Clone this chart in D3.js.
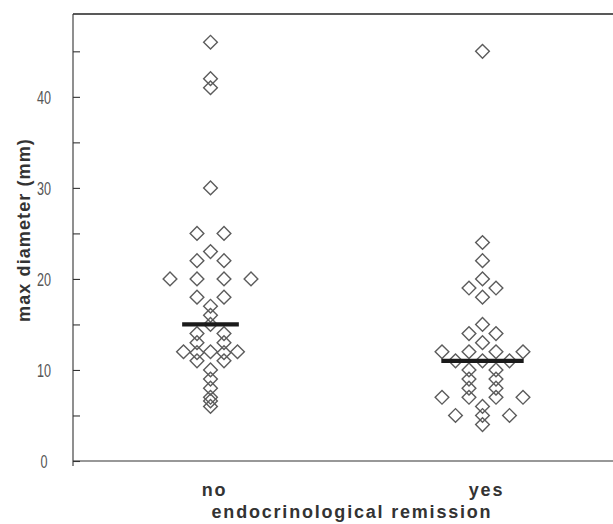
<!DOCTYPE html>
<html>
<head>
<meta charset="utf-8">
<script src="https://cdn.jsdelivr.net/npm/d3@7"></script>
<style>
	body { margin: 0; background: #fff; }
	svg { display: block; font-family: "Liberation Sans", Arial, sans-serif; }
</style>
</head>
<body>
<svg id="chart" width="613" height="524"></svg>
<script>
// max diameter (mm) per patient
var groups = ["no", "yes"];
var noValues = [46, 42, 41, 30, 25, 25, 23, 22, 22, 20, 20, 20, 20, 18, 18, 17, 16, 15,
	14, 14, 13, 13, 12, 12, 12, 11.9, 11.9, 11, 11, 10, 9, 8, 7, 6.6, 6];
var yesValues = [45, 24, 22, 20, 19, 19, 18, 15, 14, 14, 13, 12, 12, 12, 12, 11, 11, 11,
	10, 10, 9, 9, 8, 8, 7, 7, 7, 7, 6, 5, 5, 5, 4];
var majorTicks = [0, 10, 20, 30, 40];
var minorTicks = [5, 15, 25, 35, 45];
var yTitle = "max diameter (mm)";
var xTitle = "endocrinological remission";

var series = { no: noValues, yes: yesValues };

var svg = d3.select("#chart");
var unit = 13.5; // half a symbol width, side step of the dot plot
var barHalf = { no: 2.1, yes: 3.05 }; // median bar half width, in units

var x = d3.scalePoint()
	.domain(groups)
	.range([74.5, 618.5])
	.padding(0.5);

var y = d3.scaleLinear()
	.domain([0, 49.1])
	.range([461, 14]);

// frame
svg.append("line")
	.attr("x1", 73).attr("x2", 613)
	.attr("y1", y(49.1)).attr("y2", y(49.1))
	.style("stroke", "#222")
	.style("stroke-width", 1.6);

svg.append("line")
	.attr("x1", 73).attr("x2", 613)
	.attr("y1", y(0)).attr("y2", y(0))
	.style("stroke", "#333")
	.style("stroke-width", 1.1);

svg.append("line")
	.attr("x1", 73).attr("x2", 73)
	.attr("y1", y(49.1)).attr("y2", y(0) + 5)
	.style("stroke", "#333")
	.style("stroke-width", 1.1);

// y axis, ticks pointing inwards
var gMajor = svg.append("g")
	.attr("transform", "translate(73,0)")
	.call(d3.axisLeft(y).tickValues(majorTicks).tickSize(-7).tickFormat(d3.format("d")));

var gMinor = svg.append("g")
	.attr("transform", "translate(73,0)")
	.call(d3.axisLeft(y).tickValues(minorTicks).tickSize(-7).tickFormat(""));

[gMajor, gMinor].forEach(function(g) {
	g.select(".domain").remove();
	g.selectAll(".tick line")
		.style("stroke", "#333")
		.style("stroke-width", 1.1);
});

var squeeze = 0.7; // tick numbers are narrow in the original
gMajor.selectAll(".tick text")
	.attr("transform", "scale(" + squeeze + ",1)")
	.attr("x", -29 / squeeze)
	.attr("dy", "0.36em")
	.style("text-anchor", "middle")
	.style("font-size", "18px")
	.style("fill", "#555");

// dot plot: equal values share a row, centred on the category
function layout(values) {
	var rows = d3.group(values, function(v) { return v; });
	var pts = [];
	rows.forEach(function(row, v) {
		row.forEach(function(d, i) {
			pts.push({ value: v, slot: 2 * i - (row.length - 1) });
		});
	});
	return pts;
}

var diamond = d3.symbol().type(d3.symbolSquare).size(94);

groups.forEach(function(g) {
	var cx = x(g);

	svg.append("g")
		.attr("class", "points " + g)
		.selectAll("path")
		.data(layout(series[g]))
		.enter()
		.append("path")
		.attr("d", diamond)
		.attr("transform", function(d) {
			return "translate(" + (cx + d.slot * unit) + "," + y(d.value) + ") rotate(45)";
		})
		.style("fill", "none")
		.style("stroke", "#5c5c5c")
		.style("stroke-width", 1.4);

	var med = d3.median(series[g]);
	svg.append("line")
		.attr("x1", cx - barHalf[g] * unit)
		.attr("x2", cx + barHalf[g] * unit)
		.attr("y1", y(med)).attr("y2", y(med))
		.style("stroke", "#1a1a1a")
		.style("stroke-width", 4.3);
});

// category labels and titles
svg.append("g")
	.selectAll("text")
	.data(groups)
	.enter()
	.append("text")
	.attr("x", function(d) { return x(d) + 4; })
	.attr("y", 496)
	.attr("text-anchor", "middle")
	.style("font-size", "18px")
	.style("font-weight", "bold")
	.style("letter-spacing", "1.8px")
	.style("fill", "#333")
	.text(function(d) { return d; });

svg.append("text")
	.attr("x", 352)
	.attr("y", 517.5)
	.attr("text-anchor", "middle")
	.style("font-size", "18px")
	.style("font-weight", "bold")
	.style("letter-spacing", "1.8px")
	.style("fill", "#333")
	.text(xTitle);

svg.append("text")
	.attr("transform", "translate(29.5,230) rotate(-90)")
	.attr("text-anchor", "middle")
	.style("font-size", "18px")
	.style("font-weight", "bold")
	.style("letter-spacing", "1.1px")
	.style("fill", "#333")
	.text(yTitle);
</script>
</body>
</html>
